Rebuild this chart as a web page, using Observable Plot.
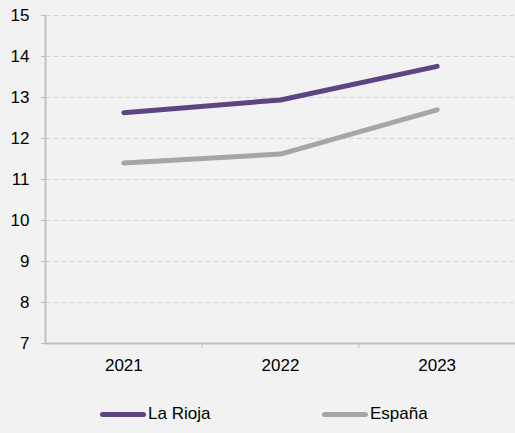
<!DOCTYPE html>
<html><head><meta charset="utf-8">
<script src="https://cdn.jsdelivr.net/npm/d3@7"></script>
<script src="https://cdn.jsdelivr.net/npm/@observablehq/plot@0.6"></script>
<style>
html,body{margin:0;padding:0;background:#f2f2f2;}
body{width:515px;height:433px;overflow:hidden;font-family:"Liberation Sans",Arial,sans-serif;color:#000;}
#legend{position:relative;height:53px;font-size:17px;}
.item{position:absolute;top:24px;display:flex;align-items:center;}
.sw{width:46px;height:5px;border-radius:3px;margin-right:2px;}
</style></head>
<body>
<div id="chart"></div>
<div id="legend"></div>
<script>
const years = [2021, 2022, 2023];
const laRioja = [12.63, 12.94, 13.76];
const espana = [11.40, 11.62, 12.70];
const seriesNames = ["La Rioja", "España"];
const seriesColors = ["#5c4581", "#a6a6a6"];
const yTicks = [7, 8, 9, 10, 11, 12, 13, 14, 15];

const data = [];
years.forEach((y, i) => {
  data.push({year: y, value: laRioja[i], serie: seriesNames[0]});
  data.push({year: y, value: espana[i], serie: seriesNames[1]});
});
const xDomain = [years[0] - 0.5, years[years.length - 1] + 0.5];
const yDomain = [yTicks[0], yTicks[yTicks.length - 1]];
const boundaries = years.slice(0, -1).map(y => y + 0.5);

const chart = Plot.plot({
  width: 515, height: 380,
  marginTop: 15, marginBottom: 37, marginLeft: 45, marginRight: 0,
  style: {background: "#f2f2f2", fontSize: "17px", fontFamily: "Liberation Sans, Arial, sans-serif", color: "#000"},
  x: {domain: xDomain},
  y: {domain: yDomain},
  color: {domain: seriesNames, range: seriesColors},
  marks: [
    Plot.gridY(yTicks.slice(1), {stroke: "#d4d4d4", strokeOpacity: 1, strokeDasharray: "5,3", strokeWidth: 1}),
    Plot.axisY({ticks: yTicks, tickSize: 4, tickPadding: 12, stroke: "#bfbfbf", fill: "#000", tickFormat: d => String(d), label: null}),
    Plot.axisX({ticks: years, tickSize: 0, tickPadding: 15, fill: "#000", tickFormat: d => String(d), label: null}),
    Plot.axisX({ticks: boundaries, tickSize: 5, stroke: "#bfbfbf", tickFormat: () => "", label: null}),
    Plot.ruleY([yDomain[0]], {stroke: "#bfbfbf", strokeWidth: 2}),
    Plot.ruleX([xDomain[0]], {stroke: "#bfbfbf", strokeWidth: 2}),
    Plot.line(data, {x: "year", y: "value", z: "serie", stroke: "serie", strokeWidth: 5, strokeLinecap: "round", strokeLinejoin: "round"})
  ]
});
document.getElementById("chart").appendChild(chart);

const legend = document.getElementById("legend");
const lefts = [100, 322];
seriesNames.forEach((n, i) => {
  const it = document.createElement("div");
  it.className = "item";
  it.style.left = lefts[i] + "px";
  const sw = document.createElement("div");
  sw.className = "sw";
  sw.style.background = seriesColors[i];
  const t = document.createElement("span");
  t.textContent = n;
  it.appendChild(sw); it.appendChild(t);
  legend.appendChild(it);
});
</script>
</body></html>
